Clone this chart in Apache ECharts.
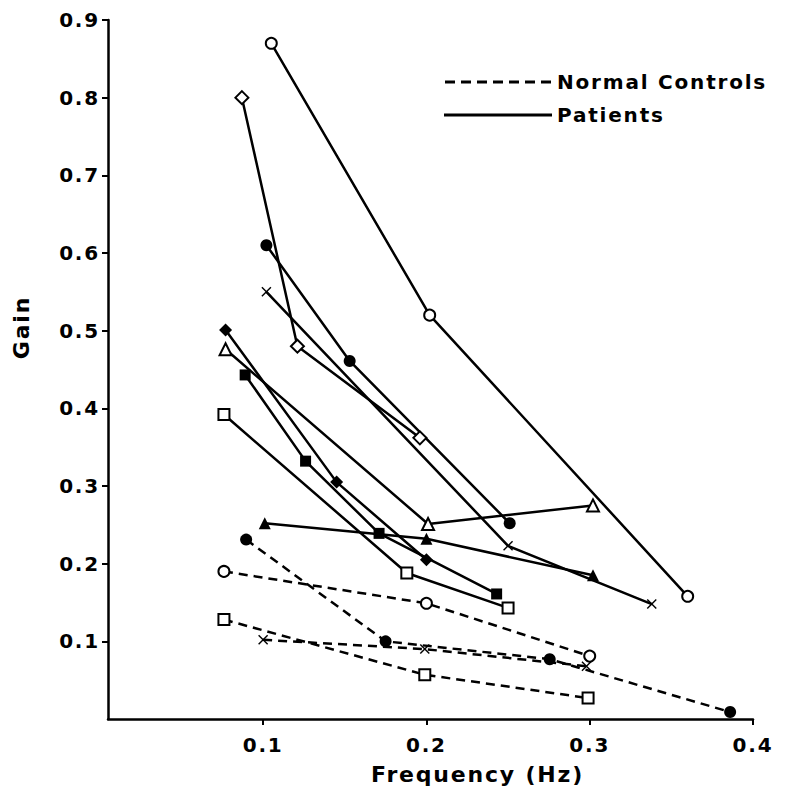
<!DOCTYPE html>
<html>
<head>
<meta charset="utf-8">
<script src="https://cdn.jsdelivr.net/npm/echarts@6/dist/echarts.min.js"></script>
<style>
  html, body { margin: 0; padding: 0; background: #fff; }
  #chart { width: 786px; height: 795px; }
  /* the scanned figure has widely spaced lettering */
  #chart text { letter-spacing: 1.8px; }
</style>
</head>
<body>
<div id="chart"></div>
<script>
// tick values
const xTicks = [0.1, 0.2, 0.3, 0.4];
const yTicks = [0.1, 0.2, 0.3, 0.4, 0.5, 0.6, 0.7, 0.8, 0.9];

// patients: [frequency Hz, gain]
const patOpenCircle = [[0.105, 0.87], [0.202, 0.52], [0.36, 0.158]];
const patOpenDiamond = [[0.087, 0.80], [0.121, 0.48], [0.196, 0.362]];
const patFilledCircle = [[0.102, 0.61], [0.153, 0.461], [0.251, 0.252]];
const patCross = [[0.102, 0.55], [0.25, 0.223], [0.338, 0.148]];
const patFilledDiamond = [[0.077, 0.501], [0.145, 0.305], [0.200, 0.205]];
const patOpenTriangle = [[0.077, 0.476], [0.201, 0.251], [0.302, 0.275]];
const patFilledSquare = [[0.089, 0.443], [0.126, 0.332], [0.171, 0.239], [0.243, 0.161]];
const patOpenSquare = [[0.076, 0.392], [0.188, 0.188], [0.25, 0.143]];
const patFilledTriangle = [[0.101, 0.252], [0.200, 0.232], [0.302, 0.185]];

// normal controls
const ctlFilledCircle = [[0.0896, 0.231], [0.175, 0.10], [0.2755, 0.077], [0.386, 0.009]];
const ctlOpenCircle = [[0.076, 0.19], [0.200, 0.149], [0.300, 0.081]];
const ctlOpenSquare = [[0.076, 0.128], [0.199, 0.057], [0.299, 0.027]];
const ctlCross = [[0.100, 0.102], [0.199, 0.090], [0.298, 0.068]];

const FONT = "DejaVu Sans";
const crossPath = "path://M1,0L5,4L9,0L10,1L6,5L10,9L9,10L5,6L1,10L0,9L4,5L0,1Z";

// dashed legend icon
let dashPath = "path://";
for (let i = 0; i < 7; i++) {
  dashPath += "M" + i * 16 + ",0h10v3h-10z";
}

const chart = echarts.init(document.getElementById("chart"), null, { renderer: "svg" });

// build one line series
const mk = (name, data, symbol, filled, dashed, size) => ({
  name: name,
  type: "line",
  data: data,
  symbol: symbol,
  symbolSize: size || 10,
  showAllSymbol: true,
  z: 3,
  lineStyle: {
    color: "#000",
    width: 2.5,
    type: dashed ? [9, 6] : "solid",
  },
  itemStyle: {
    color: filled ? "#000" : "#fff",
    borderColor: "#000",
    borderWidth: filled ? 0 : 2,
  },
  emphasis: { disabled: true },
});

const P = "Patients";
const C = "Normal Controls";

const series = [
  mk(P, patOpenCircle, "circle", false, false, 11),
  mk(P, patOpenDiamond, "diamond", false, false, 13),
  mk(P, patFilledCircle, "circle", true, false, 12),
  mk(P, patCross, crossPath, true, false, 10),
  mk(P, patFilledDiamond, "diamond", true, false, 13),
  mk(P, patOpenTriangle, "triangle", false, false, 12),
  mk(P, patFilledSquare, "rect", true, false, 11),
  mk(P, patOpenSquare, "rect", false, false, 11),
  mk(P, patFilledTriangle, "triangle", true, false, 12),
  mk(C, ctlFilledCircle, "circle", true, true, 12),
  mk(C, ctlOpenCircle, "circle", false, true, 11),
  mk(C, ctlOpenSquare, "rect", false, true, 11),
  mk(C, ctlCross, crossPath, true, true, 10),
];

const option = {
  animation: false,
  backgroundColor: "#fff",
  grid: { left: 108, right: 33, top: 20, bottom: 76 },
  legend: {
    orient: "vertical",
    left: 439,
    top: 67,
    itemGap: 13,
    itemWidth: 108,
    itemHeight: 3,
    selectedMode: false,
    data: [
      { name: C, icon: dashPath },
      { name: P, icon: "rect" },
    ],
    itemStyle: { color: "#000", borderWidth: 0 },
    textStyle: { fontFamily: FONT, fontWeight: "bold", fontSize: 20, color: "#000" },
  },
  xAxis: {
    type: "value",
    min: 0.005,
    max: 0.4,
    name: "Frequency (Hz)",
    nameLocation: "middle",
    nameGap: 44,
    nameTextStyle: {
      fontFamily: FONT, fontWeight: "bold", fontSize: 22, color: "#000",
      padding: [0, 0, 0, 94],
    },
    splitLine: { show: false },
    axisLine: { lineStyle: { color: "#000", width: 2.5 } },
    axisTick: { customValues: xTicks, length: 6, lineStyle: { color: "#000", width: 2 } },
    axisLabel: {
      customValues: xTicks,
      margin: 16,
      formatter: (v) => v.toFixed(1),
      fontFamily: FONT, fontWeight: "bold", fontSize: 20, color: "#000",
    },
  },
  yAxis: {
    type: "value",
    min: 0,
    max: 0.9,
    name: "Gain",
    nameLocation: "middle",
    nameGap: 76,
    nameRotate: 90,
    nameTextStyle: {
      fontFamily: FONT, fontWeight: "bold", fontSize: 22, color: "#000",
      padding: [0, 0, 0, 84],
    },
    splitLine: { show: false },
    axisLine: { show: true, lineStyle: { color: "#000", width: 2.5 } },
    axisTick: { show: true, customValues: yTicks, length: 6, lineStyle: { color: "#000", width: 2 } },
    axisLabel: {
      customValues: yTicks,
      margin: 8,
      formatter: (v) => v.toFixed(1),
      fontFamily: FONT, fontWeight: "bold", fontSize: 20, color: "#000",
    },
  },
  series: series,
};

chart.setOption(option);
</script>
</body>
</html>
